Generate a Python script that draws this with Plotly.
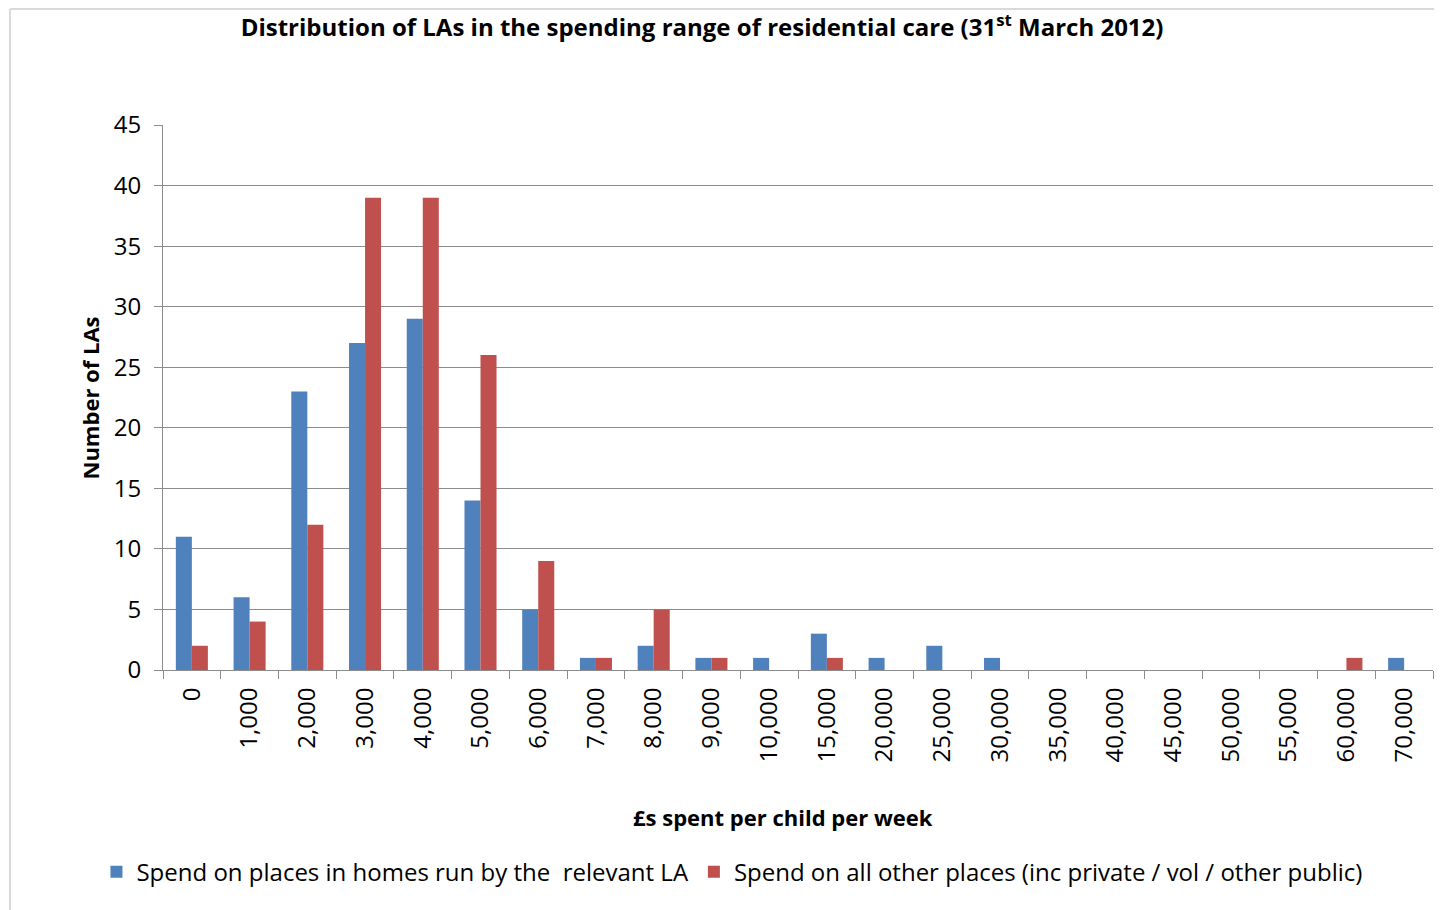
import plotly.graph_objects as go

# categories (£s spent per child per week)
spend_bands = ['0', '1,000', '2,000', '3,000', '4,000', '5,000', '6,000', '7,000',
               '8,000', '9,000', '10,000', '15,000', '20,000', '25,000', '30,000',
               '35,000', '40,000', '45,000', '50,000', '55,000', '60,000', '70,000']

la_homes = [11, 6, 23, 27, 29, 14, 5, 1, 2, 1, 1, 3, 1, 2, 1, 0, 0, 0, 0, 0, 0, 1]
other_places = [2, 4, 12, 39, 39, 26, 9, 1, 5, 1, 0, 1, 0, 0, 0, 0, 0, 0, 0, 0, 1, 0]

y_ticks = list(range(0, 50, 5))

FONT = 'Open Sans'
BLUE = '#4F81BD'
RED = '#C0504D'
GRID = '#8C8C8C'

fig = go.Figure()
fig.add_trace(go.Bar(x=spend_bands, y=la_homes,
                     name='Spend on places in homes run by the  relevant LA',
                     marker=dict(color=BLUE, line=dict(width=0))))
fig.add_trace(go.Bar(x=spend_bands, y=other_places,
                     name='Spend on all other places (inc private / vol / other public)',
                     marker=dict(color=RED, line=dict(width=0))))

# page body has an 8px margin, so the figure is sized to fit inside the window
fig.update_layout(
    width=1434, height=902,
    barmode='group', bargap=0.445, bargroupgap=0,
    paper_bgcolor='white', plot_bgcolor='white',
    margin=dict(l=155, r=9, t=117, b=240),
    font=dict(family=FONT, color='black', size=24),
    title=dict(text='<b>Distribution of LAs in the spending range of residential care (31<sup>st</sup> March 2012)</b>',
               x=0.484, xanchor='center', y=0.978, yanchor='middle',
               font=dict(family=FONT, size=24, color='black')),
    legend=dict(orientation='h', x=0.448, xanchor='center', y=-0.371, yanchor='middle',
                font=dict(family=FONT, size=24), itemwidth=30, traceorder='normal'),
    showlegend=True,
)

fig.update_xaxes(
    type='category', tickangle=-90, tickson='boundaries',
    ticks='outside', ticklen=8, tickcolor=GRID, tickwidth=1,
    showline=True, linecolor=GRID, linewidth=1, ticklabelstandoff=7,
    showgrid=False, tickfont=dict(family=FONT, size=24),
)
fig.update_yaxes(
    range=[0, 45], tickvals=y_ticks, ticks='outside', ticklen=8, tickcolor=GRID,
    showline=True, linecolor=GRID, linewidth=1, ticklabelstandoff=8,
    showgrid=True, gridcolor=GRID, gridwidth=1, zeroline=False,
    tickfont=dict(family=FONT, size=24),
)

# axis titles
fig.add_annotation(text='<b>£s spent per child per week</b>', xref='paper', yref='paper',
                   x=0.488, y=-0.27, xanchor='center', yanchor='middle', showarrow=False,
                   font=dict(family=FONT, size=22))
fig.add_annotation(text='<b>Number of LAs</b>', xref='paper', yref='paper', textangle=-90,
                   x=-0.0575, y=0.5, xanchor='center', yanchor='middle', showarrow=False,
                   font=dict(family=FONT, size=22))

# light chart border (top and left)
fig.add_shape(type='line', xref='paper', yref='paper', x0=-0.1205, x1=1.01, y0=1.213, y1=1.213,
              line=dict(color='#D9D9D9', width=2))
fig.add_shape(type='line', xref='paper', yref='paper', x0=-0.1205, x1=-0.1205, y0=-0.5, y1=1.213,
              line=dict(color='#D9D9D9', width=2))

fig.write_html('out.html')
